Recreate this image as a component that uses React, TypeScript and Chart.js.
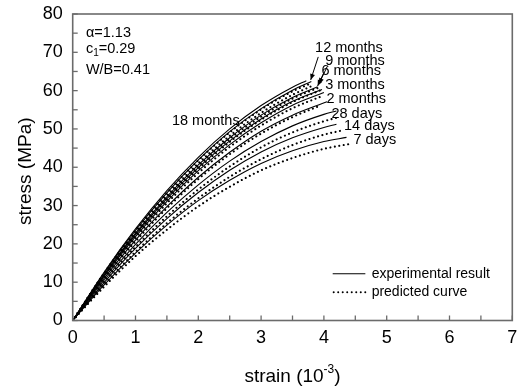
import React, { useEffect, useRef } from "react";
import { Chart, registerables } from "chart.js";
Chart.register(...registerables);

const FONT = '"Liberation Sans", Arial, Helvetica, sans-serif';

// axis ranges / ticks
const xTicks = [0, 1, 2, 3, 4, 5, 6, 7];
const yTicks = [0, 10, 20, 30, 40, 50, 60, 70, 80];

// experimental results: [strain (1e-3), stress (MPa)]
const exp7d = [[0, 0], [0.5, 9.3], [1, 17.6], [1.5, 24.9], [2, 31.3], [2.5, 36.6], [3, 41.0], [3.5, 44.3], [4, 46.7], [4.36, 47.8]];
const exp14d = [[0, 0], [0.5, 9.9], [1, 18.8], [1.5, 26.6], [2, 33.4], [2.5, 39.2], [3, 44.0], [3.5, 47.7], [4, 50.4], [4.2, 51.2]];
const exp28d = [[0, 0], [0.5, 10.5], [1, 19.9], [1.5, 28.2], [2, 35.4], [2.5, 41.6], [3, 46.7], [3.5, 50.8], [4, 53.8], [4.2, 54.7]];
const exp2m = [[0, 0], [0.5, 11.0], [1, 21.0], [1.5, 29.7], [2, 37.4], [2.5, 43.9], [3, 49.4], [3.5, 53.6], [4.05, 57.1]];
const exp3m = [[0, 0], [0.5, 11.5], [1, 21.9], [1.5, 31.1], [2, 39.1], [2.5, 45.9], [3, 51.6], [3.5, 56.2], [4.0, 59.5]];
const exp6m = [[0, 0], [0.5, 11.8], [1, 22.4], [1.5, 31.8], [2, 39.9], [2.5, 46.9], [3, 52.6], [3.5, 57.2], [3.97, 60.3]];
const exp9m = [[0, 0], [0.5, 12.0], [1, 22.8], [1.5, 32.3], [2, 40.6], [2.5, 47.7], [3, 53.6], [3.5, 58.2], [3.9, 61.0]];
const exp12m = [[0, 0], [0.5, 12.4], [1, 23.5], [1.5, 33.3], [2, 41.9], [2.5, 49.3], [3, 55.3], [3.5, 60.1], [3.8, 62.4]];
const exp18m = [[0, 0], [0.5, 12.6], [1, 23.9], [1.5, 33.9], [2, 42.6], [2.5, 50.0], [3, 56.1], [3.5, 60.9], [3.72, 62.6]];

// predicted curves
const pre7d = [[0, 0], [0.5, 8.8], [1, 16.8], [1.5, 23.7], [2, 29.8], [2.5, 34.9], [3, 39.2], [3.5, 42.4], [4, 44.8], [4.42, 46.1]];
const pre14d = [[0, 0], [0.5, 9.4], [1, 17.9], [1.5, 25.4], [2, 31.9], [2.5, 37.5], [3, 42.1], [3.5, 45.8], [4, 48.5], [4.26, 49.5]];
const pre28d = [[0, 0], [0.5, 10.1], [1, 19.2], [1.5, 27.2], [2, 34.2], [2.5, 40.2], [3, 45.2], [3.5, 49.1], [4, 52.0], [4.2, 52.9]];
const pre2m = [[0, 0], [0.5, 10.9], [1, 20.6], [1.5, 29.3], [2, 36.9], [2.5, 43.4], [3, 48.8], [3.5, 53.1], [3.9, 55.8]];
const pre3m = [[0, 0], [0.5, 11.3], [1, 21.5], [1.5, 30.6], [2, 38.5], [2.5, 45.3], [3, 50.9], [3.5, 55.4], [3.96, 58.5]];
const pre6m = [[0, 0], [0.5, 11.7], [1, 22.2], [1.5, 31.5], [2, 39.6], [2.5, 46.6], [3, 52.4], [3.5, 57.0], [3.96, 60.2]];
const pre9m = [[0, 0], [0.5, 11.9], [1, 22.6], [1.5, 32.1], [2, 40.3], [2.5, 47.4], [3, 53.2], [3.5, 57.9], [3.92, 60.8]];
const pre12m = [[0, 0], [0.5, 12.1], [1, 23.0], [1.5, 32.6], [2, 41.0], [2.5, 48.2], [3, 54.2], [3.5, 58.9], [3.85, 61.5]];
const pre18m = [[0, 0], [0.5, 12.4], [1, 23.5], [1.5, 33.3], [2, 41.8], [2.5, 49.1], [3, 55.1], [3.5, 59.8], [3.75, 61.6]];

const ageNames = ["7 days", "14 days", "28 days", "2 months", "3 months", "6 months", "9 months", "12 months", "18 months"];
const expSeries = [exp7d, exp14d, exp28d, exp2m, exp3m, exp6m, exp9m, exp12m, exp18m];
const preSeries = [pre7d, pre14d, pre28d, pre2m, pre3m, pre6m, pre9m, pre12m, pre18m];

// curve labels: [text, strain, stress] (left-middle anchor)
const curveLabels: [string, number, number][] = [
  ["18 months", 1.58, 52.2],
  ["12 months", 3.86, 71.1],
  ["9 months", 4.02, 67.7],
  ["6 months", 3.96, 65.1],
  ["3 months", 4.02, 61.4],
  ["2 months", 4.04, 57.9],
  ["28 days", 4.12, 53.8],
  ["14 days", 4.32, 50.7],
  ["7 days", 4.47, 47.2],
];

// leader arrows [x1, y1, x2, y2]
const arrows = [
  [3.91, 68.8, 3.79, 62.8],
  [4.05, 66.2, 3.92, 61.7],
  [3.99, 64.4, 3.9, 61.2],
];

const legendItems = ["experimental result", "predicted curve"];

export default function App() {
  const ref = useRef<HTMLCanvasElement>(null);
  useEffect(() => {
    document.body.style.margin = "0";
    const canvas = ref.current!;
    const datasets: any[] = [];
    expSeries.forEach((s, i) => {
      datasets.push({
        label: ageNames[i] + " experimental",
        data: s.map((p) => ({ x: p[0], y: p[1] })),
        borderColor: "#000",
        borderWidth: 1.1,
        pointRadius: 0,
        fill: false,
        cubicInterpolationMode: "monotone",
      });
    });
    preSeries.forEach((s, i) => {
      datasets.push({
        label: ageNames[i] + " predicted",
        data: s.map((p) => ({ x: p[0], y: p[1] })),
        borderColor: "#000",
        borderWidth: 2.1,
        borderDash: [0.01, 4.5],
        borderCapStyle: "round",
        pointRadius: 0,
        fill: false,
        cubicInterpolationMode: "monotone",
      });
    });

    const deco = {
      id: "deco",
      afterDatasetsDraw(chart: any) {
        const c = chart.ctx as CanvasRenderingContext2D;
        const a = chart.chartArea;
        const xs = chart.scales.x;
        const ys = chart.scales.y;
        const px = (v: number) => xs.getPixelForValue(v);
        const py = (v: number) => ys.getPixelForValue(v);
        c.save();
        // frame
        c.strokeStyle = "#6b6b6b";
        c.lineWidth = 1.6;
        c.strokeRect(a.left, a.top, a.right - a.left, a.bottom - a.top);
        // inward ticks
        c.lineWidth = 1.3;
        for (let v = 0; v <= 7.001; v += 0.5) {
          const x = px(v);
          c.beginPath();
          c.moveTo(x, a.bottom);
          c.lineTo(x, a.bottom - 5);
          c.stroke();
        }
        for (let v = 0; v <= 80.001; v += 5) {
          const y = py(v);
          c.beginPath();
          c.moveTo(a.left, y);
          c.lineTo(a.left + 5, y);
          c.stroke();
        }
        c.fillStyle = "#000";
        c.strokeStyle = "#000";
        // axis titles
        c.textBaseline = "middle";
        c.textAlign = "left";
        const t1 = "strain (10";
        const t2 = "-3";
        const t3 = ")";
        c.font = `19px ${FONT}`;
        const w1 = c.measureText(t1).width;
        const w3 = c.measureText(t3).width;
        c.font = `12px ${FONT}`;
        const w2 = c.measureText(t2).width;
        const total = w1 + w2 + w3;
        const cx = (a.left + a.right) / 2;
        const sx = cx - total / 2;
        const ty = 377;
        c.font = `19px ${FONT}`;
        c.fillText(t1, sx, ty);
        c.font = `12px ${FONT}`;
        c.fillText(t2, sx + w1, ty - 7);
        c.font = `19px ${FONT}`;
        c.fillText(t3, sx + w1 + w2, ty);

        c.save();
        c.translate(26, (a.top + a.bottom) / 2 + 4);
        c.rotate(-Math.PI / 2);
        c.textAlign = "center";
        c.fillText("stress (MPa)", 0, 0);
        c.restore();

        // parameters
        c.font = `14.5px ${FONT}`;
        c.textAlign = "left";
        c.fillText("\u03b1=1.13", px(0.21), py(75.1));
        const cxp = px(0.21);
        const cy = py(70.9);
        c.fillText("c", cxp, cy);
        const wc = c.measureText("c").width;
        c.font = `10px ${FONT}`;
        c.fillText("1", cxp + wc, cy + 4);
        const w1s = c.measureText("1").width;
        c.font = `14.5px ${FONT}`;
        c.fillText("=0.29", cxp + wc + w1s, cy);
        c.fillText("W/B=0.41", px(0.21), py(65.4));

        // curve labels
        c.font = `14.5px ${FONT}`;
        curveLabels.forEach(([t, x, y]) => c.fillText(t, px(x), py(y)));

        // arrows
        c.lineWidth = 1;
        arrows.forEach(([x1, y1, x2, y2]) => {
          const X1 = px(x1), Y1 = py(y1), X2 = px(x2), Y2 = py(y2);
          c.beginPath();
          c.moveTo(X1, Y1);
          c.lineTo(X2, Y2);
          c.stroke();
          const ang = Math.atan2(Y2 - Y1, X2 - X1);
          const L = 6, H = 2.5;
          c.beginPath();
          c.moveTo(X2, Y2);
          c.lineTo(X2 - L * Math.cos(ang) + H * Math.sin(ang), Y2 - L * Math.sin(ang) - H * Math.cos(ang));
          c.lineTo(X2 - L * Math.cos(ang) - H * Math.sin(ang), Y2 - L * Math.sin(ang) + H * Math.cos(ang));
          c.closePath();
          c.fill();
        });

        // legend
        c.font = `14px ${FONT}`;
        const lx1 = px(4.14), lx2 = px(4.66), tx = px(4.76);
        const ly1 = py(12.2), ly2 = py(7.4);
        c.lineWidth = 1.1;
        c.beginPath();
        c.moveTo(lx1, ly1);
        c.lineTo(lx2, ly1);
        c.stroke();
        c.fillText(legendItems[0], tx, ly1);
        c.lineWidth = 2;
        c.lineCap = "round";
        c.setLineDash([0.01, 4.5]);
        c.beginPath();
        c.moveTo(lx1 + 1, ly2);
        c.lineTo(lx2, ly2);
        c.stroke();
        c.setLineDash([]);
        c.fillText(legendItems[1], tx, ly2);
        c.restore();
      },
    };

    const chart = new Chart(canvas, {
      type: "line",
      data: { datasets },
      options: {
        animation: false,
        responsive: false,
        devicePixelRatio: 1,
        layout: { padding: { top: 14, right: 7.7, left: 0, bottom: 0 } },
        plugins: { legend: { display: false }, tooltip: { enabled: false } },
        scales: {
          x: {
            type: "linear",
            min: 0,
            max: 7,
            afterFit: (s: any) => { s.height = 66.5; s.paddingLeft = 0; s.paddingRight = 0; },
            afterBuildTicks: (s: any) => { s.ticks = xTicks.map((v) => ({ value: v })); },
            grid: { display: false, drawTicks: false },
            border: { display: false },
            ticks: { color: "#000", font: { family: FONT, size: 18 }, padding: 7, maxRotation: 0, autoSkip: false },
          },
          y: {
            type: "linear",
            min: 0,
            max: 80,
            afterFit: (s: any) => { s.width = 72.7; s.paddingTop = 0; s.paddingBottom = 0; },
            afterBuildTicks: (s: any) => { s.ticks = yTicks.map((v) => ({ value: v })); },
            grid: { display: false, drawTicks: false },
            border: { display: false },
            ticks: { color: "#000", font: { family: FONT, size: 18 }, padding: 10, autoSkip: false },
          },
        },
      },
      plugins: [deco],
    });
    return () => chart.destroy();
  }, []);
  return (
    <div style={{ width: 520, height: 387 }}>
      <canvas ref={ref} width={520} height={387} style={{ width: 520, height: 387, display: "block" }} />
    </div>
  );
}
